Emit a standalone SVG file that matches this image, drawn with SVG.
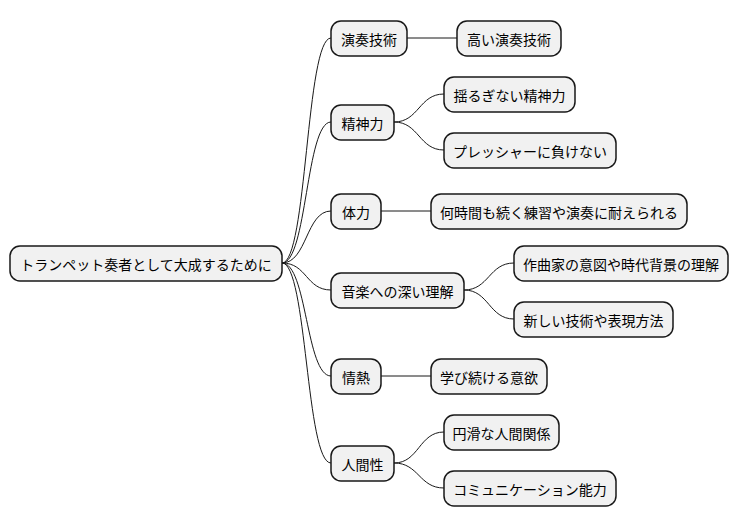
<svg xmlns="http://www.w3.org/2000/svg" width="740" height="527" viewBox="0 0 740 527">
<style>
.n rect{fill:#F1F1F1;stroke:#181818;stroke-width:1.5}
.n text{font-family:"Noto Sans CJK JP","Noto Sans",sans-serif;font-size:14px;fill:#000;dominant-baseline:central;text-anchor:middle}
#c path{fill:none;stroke:#181818;stroke-width:1}
</style>
<rect width="740" height="527" fill="#fff"/>
<g id="c">
<path d="M282,263 C307,263 306,38 331,38"/>
<path d="M282,263 C307,263 306,122 331,122"/>
<path d="M282,263 C307,263 306,211 331,211"/>
<path d="M282,263 C307,263 306,290 331,290"/>
<path d="M282,263 C307,263 306,376 331,376"/>
<path d="M282,263 C307,263 306,463 331,463"/>
<path d="M407,38 L457,38"/>
<path d="M394,122 C419,122 419,94 444,94"/>
<path d="M394,122 C419,122 419,150 444,150"/>
<path d="M381,211 L431,211"/>
<path d="M464,290 C489,290 489,263 514,263"/>
<path d="M464,290 C489,290 489,319 514,319"/>
<path d="M381,376 L431,376"/>
<path d="M394,463 C419,463 419,432 444,432"/>
<path d="M394,463 C419,463 419,488 444,488"/>
</g>
<g id="root" class="n"><rect x="10" y="246" width="272" height="35" rx="10"/><text x="146" y="263.5">トランペット奏者として大成するために</text></g>
<g id="n1" class="n"><rect x="331" y="21" width="76" height="35" rx="10"/><text x="369" y="38.5">演奏技術</text></g>
<g id="n2" class="n"><rect x="331" y="105" width="63" height="35" rx="10"/><text x="362.5" y="122.5">精神力</text></g>
<g id="n3" class="n"><rect x="331" y="194" width="50" height="35" rx="10"/><text x="356" y="211.5">体力</text></g>
<g id="n4" class="n"><rect x="331" y="273" width="133" height="35" rx="10"/><text x="397.5" y="290.5">音楽への深い理解</text></g>
<g id="n5" class="n"><rect x="331" y="359" width="50" height="35" rx="10"/><text x="356" y="376.5">情熱</text></g>
<g id="n6" class="n"><rect x="331" y="446" width="63" height="35" rx="10"/><text x="362.5" y="463.5">人間性</text></g>
<g id="n1a" class="n"><rect x="457" y="21" width="104" height="35" rx="10"/><text x="509" y="38.5">高い演奏技術</text></g>
<g id="n2a" class="n"><rect x="444" y="77" width="131" height="35" rx="10"/><text x="509.5" y="94.5">揺るぎない精神力</text></g>
<g id="n2b" class="n"><rect x="444" y="133" width="172" height="35" rx="10"/><text x="530" y="150.5">プレッシャーに負けない</text></g>
<g id="n3a" class="n"><rect x="431" y="194" width="256" height="35" rx="10"/><text x="559" y="211.5">何時間も続く練習や演奏に耐えられる</text></g>
<g id="n4a" class="n"><rect x="514" y="246" width="214" height="35" rx="10"/><text x="621" y="263.5">作曲家の意図や時代背景の理解</text></g>
<g id="n4b" class="n"><rect x="514" y="302" width="159" height="35" rx="10"/><text x="593.5" y="319.5">新しい技術や表現方法</text></g>
<g id="n5a" class="n"><rect x="431" y="359" width="116" height="35" rx="10"/><text x="489" y="376.5">学び続ける意欲</text></g>
<g id="n6a" class="n"><rect x="444" y="415" width="115" height="35" rx="10"/><text x="501.5" y="432.5">円滑な人間関係</text></g>
<g id="n6b" class="n"><rect x="444" y="471" width="172" height="35" rx="10"/><text x="530" y="488.5">コミュニケーション能力</text></g>
</svg>
